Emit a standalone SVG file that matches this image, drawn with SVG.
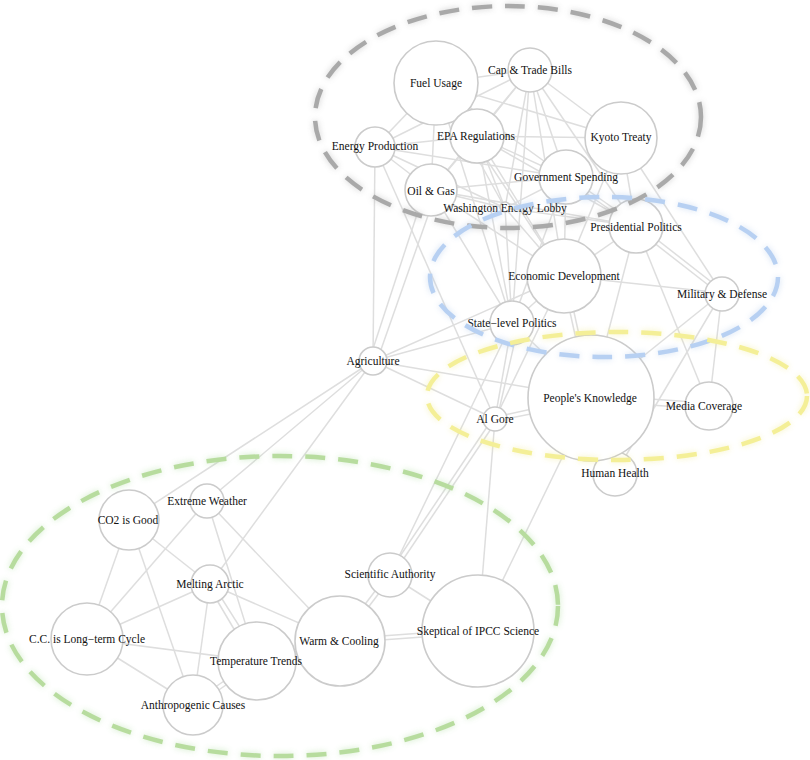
<svg xmlns="http://www.w3.org/2000/svg" width="810" height="760" viewBox="0 0 810 760">
<defs>
<style>
.e{stroke:#dedede;stroke-width:1.5;fill:none}
.n circle{fill:#fff;stroke:#cbcbcb;stroke-width:1.6}
.n text{font-family:"Liberation Serif","Times New Roman",serif;font-size:11.5px;fill:#111;text-anchor:middle}
.grp{fill:none;stroke-width:4.5;stroke-dasharray:20 13}
</style>
<filter id="glow" x="-10%" y="-10%" width="120%" height="120%">
<feGaussianBlur stdDeviation="3"/>
</filter>
</defs>
<rect width="810" height="760" fill="#fff"/>
<g id="connectors">
<line class="e" x1="436" y1="83" x2="530" y2="70"/>
<line class="e" x1="436" y1="83" x2="477" y2="136"/>
<line class="e" x1="436" y1="83" x2="375" y2="147"/>
<line class="e" x1="436" y1="83" x2="431" y2="190"/>
<line class="e" x1="436" y1="83" x2="621" y2="138"/>
<line class="e" x1="436" y1="83" x2="566" y2="177"/>
<line class="e" x1="436" y1="83" x2="505" y2="208"/>
<line class="e" x1="436" y1="83" x2="512" y2="323"/>
<line class="e" x1="436" y1="83" x2="564" y2="276"/>
<line class="e" x1="530" y1="70" x2="477" y2="136"/>
<line class="e" x1="530" y1="70" x2="375" y2="147"/>
<line class="e" x1="530" y1="70" x2="431" y2="190"/>
<line class="e" x1="530" y1="70" x2="621" y2="138"/>
<line class="e" x1="530" y1="70" x2="566" y2="177"/>
<line class="e" x1="530" y1="70" x2="505" y2="208"/>
<line class="e" x1="530" y1="70" x2="564" y2="276"/>
<line class="e" x1="530" y1="70" x2="636" y2="226"/>
<line class="e" x1="530" y1="70" x2="512" y2="323"/>
<line class="e" x1="477" y1="136" x2="375" y2="147"/>
<line class="e" x1="477" y1="136" x2="621" y2="138"/>
<line class="e" x1="477" y1="136" x2="431" y2="190"/>
<line class="e" x1="477" y1="136" x2="566" y2="177"/>
<line class="e" x1="477" y1="136" x2="505" y2="208"/>
<line class="e" x1="477" y1="136" x2="564" y2="276"/>
<line class="e" x1="477" y1="136" x2="512" y2="323"/>
<line class="e" x1="477" y1="136" x2="636" y2="226"/>
<line class="e" x1="375" y1="147" x2="431" y2="190"/>
<line class="e" x1="375" y1="147" x2="566" y2="177"/>
<line class="e" x1="375" y1="147" x2="505" y2="208"/>
<line class="e" x1="375" y1="147" x2="373" y2="361"/>
<line class="e" x1="375" y1="147" x2="495" y2="419"/>
<line class="e" x1="621" y1="138" x2="636" y2="226"/>
<line class="e" x1="621" y1="138" x2="722" y2="293"/>
<line class="e" x1="621" y1="138" x2="564" y2="276"/>
<line class="e" x1="431" y1="190" x2="566" y2="177"/>
<line class="e" x1="431" y1="190" x2="505" y2="208"/>
<line class="e" x1="431" y1="190" x2="564" y2="276"/>
<line class="e" x1="425" y1="190" x2="369" y2="361"/>
<line class="e" x1="437" y1="190" x2="377" y2="361"/>
<line class="e" x1="431" y1="190" x2="512" y2="323"/>
<line class="e" x1="431" y1="190" x2="636" y2="226"/>
<line class="e" x1="566" y1="177" x2="505" y2="208"/>
<line class="e" x1="566" y1="175" x2="636" y2="224"/>
<line class="e" x1="566" y1="179" x2="636" y2="228"/>
<line class="e" x1="566" y1="177" x2="564" y2="276"/>
<line class="e" x1="566" y1="177" x2="512" y2="323"/>
<line class="e" x1="505" y1="208" x2="636" y2="226"/>
<line class="e" x1="505" y1="208" x2="564" y2="276"/>
<line class="e" x1="505" y1="208" x2="512" y2="323"/>
<line class="e" x1="636" y1="226" x2="564" y2="276"/>
<line class="e" x1="635" y1="228" x2="721" y2="295"/>
<line class="e" x1="637" y1="224" x2="723" y2="291"/>
<line class="e" x1="636" y1="226" x2="591" y2="398"/>
<line class="e" x1="636" y1="226" x2="709" y2="406"/>
<line class="e" x1="564" y1="276" x2="722" y2="293"/>
<line class="e" x1="564" y1="276" x2="512" y2="323"/>
<line class="e" x1="562" y1="276" x2="589" y2="398"/>
<line class="e" x1="566" y1="276" x2="593" y2="398"/>
<line class="e" x1="564" y1="276" x2="373" y2="361"/>
<line class="e" x1="564" y1="276" x2="495" y2="419"/>
<line class="e" x1="722" y1="293" x2="591" y2="398"/>
<line class="e" x1="722" y1="293" x2="709" y2="406"/>
<line class="e" x1="722" y1="293" x2="615" y2="474"/>
<line class="e" x1="512" y1="323" x2="373" y2="361"/>
<line class="e" x1="512" y1="323" x2="495" y2="419"/>
<line class="e" x1="519" y1="323" x2="497" y2="419"/>
<line class="e" x1="512" y1="323" x2="591" y2="398"/>
<line class="e" x1="512" y1="323" x2="390" y2="575"/>
<line class="e" x1="495" y1="417" x2="591" y2="396"/>
<line class="e" x1="495" y1="421" x2="591" y2="402"/>
<line class="e" x1="591" y1="395" x2="709" y2="403"/>
<line class="e" x1="591" y1="401" x2="709" y2="409"/>
<line class="e" x1="591" y1="398" x2="615" y2="474"/>
<line class="e" x1="591" y1="398" x2="373" y2="361"/>
<line class="e" x1="591" y1="398" x2="478" y2="631"/>
<line class="e" x1="495" y1="419" x2="373" y2="361"/>
<line class="e" x1="497" y1="420" x2="392" y2="576"/>
<line class="e" x1="493" y1="418" x2="388" y2="574"/>
<line class="e" x1="495" y1="419" x2="478" y2="631"/>
<line class="e" x1="373" y1="361" x2="129" y2="520"/>
<line class="e" x1="373" y1="361" x2="207" y2="501"/>
<line class="e" x1="373" y1="361" x2="210" y2="584"/>
<line class="e" x1="129" y1="520" x2="87" y2="639"/>
<line class="e" x1="129" y1="520" x2="193" y2="705"/>
<line class="e" x1="129" y1="520" x2="210" y2="584"/>
<line class="e" x1="207" y1="501" x2="87" y2="639"/>
<line class="e" x1="207" y1="501" x2="257" y2="661"/>
<line class="e" x1="207" y1="501" x2="340" y2="641"/>
<line class="e" x1="210" y1="584" x2="87" y2="639"/>
<line class="e" x1="208" y1="585" x2="254" y2="663"/>
<line class="e" x1="212" y1="583" x2="260" y2="659"/>
<line class="e" x1="210" y1="584" x2="193" y2="705"/>
<line class="e" x1="210" y1="584" x2="340" y2="641"/>
<line class="e" x1="87" y1="639" x2="257" y2="661"/>
<line class="e" x1="87" y1="639" x2="193" y2="705"/>
<line class="e" x1="258" y1="663" x2="194" y2="707"/>
<line class="e" x1="256" y1="659" x2="192" y2="703"/>
<line class="e" x1="257" y1="661" x2="340" y2="641"/>
<line class="e" x1="342" y1="642" x2="392" y2="576"/>
<line class="e" x1="338" y1="640" x2="388" y2="574"/>
<line class="e" x1="340" y1="639" x2="478" y2="629"/>
<line class="e" x1="340" y1="643" x2="478" y2="633"/>
<line class="e" x1="390" y1="575" x2="478" y2="631"/>
</g>
<g id="nodes">
<g id="n-fuel-usage" class="n"><circle cx="436" cy="83" r="42"/><text x="436" y="83" dy="0.35em">Fuel Usage</text></g>
<g id="n-cap-trade" class="n"><circle cx="530" cy="70" r="22"/><text x="530" y="70" dy="0.35em">Cap &amp; Trade Bills</text></g>
<g id="n-epa" class="n"><circle cx="477" cy="136" r="27"/><text x="476" y="136" dy="0.35em">EPA Regulations</text></g>
<g id="n-energy-production" class="n"><circle cx="375" cy="147" r="20"/><text x="375" y="146" dy="0.35em">Energy Production</text></g>
<g id="n-kyoto" class="n"><circle cx="621" cy="138" r="36"/><text x="621" y="137" dy="0.35em">Kyoto Treaty</text></g>
<g id="n-oil-gas" class="n"><circle cx="431" cy="190" r="26"/><text x="431" y="191" dy="0.35em">Oil &amp; Gas</text></g>
<g id="n-gov-spending" class="n"><circle cx="566" cy="177" r="27"/><text x="566" y="177" dy="0.35em">Government Spending</text></g>
<g id="n-wel" class="n"><circle cx="505" cy="207" r="5"/><text x="505" y="208" dy="0.35em">Washington Energy Lobby</text></g>
<g id="n-presidential" class="n"><circle cx="636" cy="226" r="27"/><text x="636" y="227" dy="0.35em">Presidential Politics</text></g>
<g id="n-economic" class="n"><circle cx="564" cy="276" r="37"/><text x="564" y="276" dy="0.35em">Economic Development</text></g>
<g id="n-military" class="n"><circle cx="722" cy="294" r="17"/><text x="722" y="294" dy="0.35em">Military &amp; Defense</text></g>
<g id="n-state-level" class="n"><circle cx="512" cy="323" r="22"/><text x="512" y="323" dy="0.35em">State−level Politics</text></g>
<g id="n-human-health" class="n"><circle cx="615" cy="474" r="22"/><text x="615" y="473" dy="0.35em">Human Health</text></g>
<g id="n-peoples-knowledge" class="n"><circle cx="591" cy="398" r="63"/><text x="590" y="398" dy="0.35em">People's Knowledge</text></g>
<g id="n-media" class="n"><circle cx="709" cy="406" r="24"/><text x="704" y="406" dy="0.35em">Media Coverage</text></g>
<g id="n-al-gore" class="n"><circle cx="495" cy="419" r="12"/><text x="495" y="419" dy="0.35em">Al Gore</text></g>
<g id="n-agriculture" class="n"><circle cx="373" cy="361" r="14"/><text x="373" y="361" dy="0.35em">Agriculture</text></g>
<g id="n-co2" class="n"><circle cx="129" cy="520" r="30"/><text x="128" y="520" dy="0.35em">CO2 is Good</text></g>
<g id="n-extreme-weather" class="n"><circle cx="207" cy="501" r="17"/><text x="207" y="501" dy="0.35em">Extreme Weather</text></g>
<g id="n-melting-arctic" class="n"><circle cx="210" cy="584" r="19"/><text x="210" y="584" dy="0.35em">Melting Arctic</text></g>
<g id="n-cc-cycle" class="n"><circle cx="87" cy="639" r="36"/><text x="87" y="639" dy="0.35em">C.C. is Long−term Cycle</text></g>
<g id="n-anthropogenic" class="n"><circle cx="193" cy="705" r="30"/><text x="193" y="705" dy="0.35em">Anthropogenic Causes</text></g>
<g id="n-warm-cooling" class="n"><circle cx="340" cy="641" r="45"/><text x="339" y="641" dy="0.35em">Warm &amp; Cooling</text></g>
<g id="n-temp-trends" class="n"><circle cx="257" cy="661" r="39"/><text x="256" y="661" dy="0.35em">Temperature Trends</text></g>
<g id="n-sci-authority" class="n"><circle cx="390" cy="575" r="22"/><text x="390" y="574" dy="0.35em">Scientific Authority</text></g>
<g id="n-skeptical" class="n"><circle cx="478" cy="631" r="56"/><text x="478" y="631" dy="0.35em">Skeptical of IPCC Science</text></g>
</g>
<g id="groups">
<g filter="url(#glow)" opacity="0.45">
<ellipse class="grp" cx="508" cy="117" rx="193" ry="111" stroke="#9a9a9a"/>
<ellipse class="grp" cx="604" cy="277" rx="174" ry="80" stroke="#9fbde6"/>
<ellipse class="grp" cx="617" cy="396" rx="190" ry="64" stroke="#ede67a"/>
<ellipse class="grp" cx="280" cy="606" rx="278" ry="150" stroke="#98d485"/>
</g>
<ellipse class="grp" cx="508" cy="117" rx="193" ry="111" stroke="#a9a9a9"/>
<ellipse class="grp" cx="604" cy="277" rx="174" ry="80" stroke="#b7d0f2"/>
<ellipse class="grp" cx="617" cy="396" rx="190" ry="64" stroke="#f4ef97"/>
<ellipse class="grp" cx="280" cy="606" rx="278" ry="150" stroke="#b7dc9e"/>
</g>
</svg>
